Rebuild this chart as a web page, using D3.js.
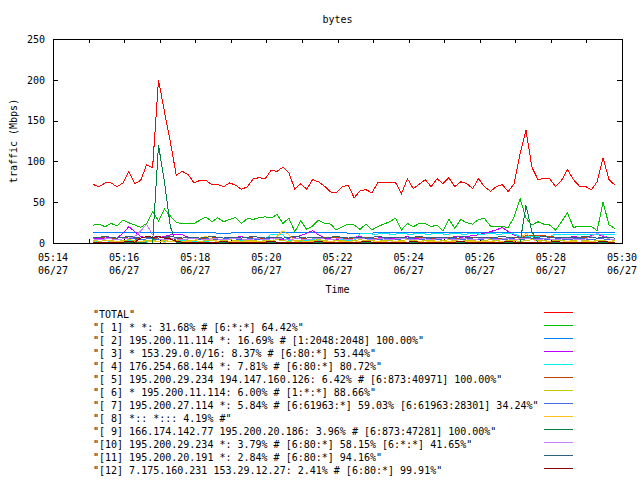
<!DOCTYPE html>
<html>
<head>
<meta charset="utf-8">
<script src="https://cdn.jsdelivr.net/npm/d3@7"></script>
<style>
  html, body { margin: 0; padding: 0; background: #fff; }
  svg { display: block; }
  text { font-family: "DejaVu Sans Mono", monospace; font-size: 10px; fill: #000; white-space: pre; }
</style>
</head>
<body>
<svg id="chart" width="640" height="480"></svg>
<script>
// ---------- DATA ----------
const title = "bytes";
const yLabel = "traffic (Mbps)";
const xLabel = "Time";
const startTime = new Date(2008, 5, 27, 5, 15, 8);   // first sample
const stepSeconds = 10;                               // sample interval
const xDomain = [new Date(2008, 5, 27, 5, 14, 0), new Date(2008, 5, 27, 5, 30, 0)];
const yTicks = [0, 50, 100, 150, 200, 250];

const seriesNames = [
  "\"TOTAL\"",
  "\"[ 1] * *: 31.68% # [6:*:*] 64.42%\"",
  "\"[ 2] 195.200.11.114 *: 16.69% # [1:2048:2048] 100.00%\"",
  "\"[ 3] * 153.29.0.0/16: 8.37% # [6:80:*] 53.44%\"",
  "\"[ 4] 176.254.68.144 *: 7.81% # [6:80:*] 80.72%\"",
  "\"[ 5] 195.200.29.234 194.147.160.126: 6.42% # [6:873:40971] 100.00%\"",
  "\"[ 6] * 195.200.11.114: 6.00% # [1:*:*] 88.66%\"",
  "\"[ 7] 195.200.27.114 *: 5.84% # [6:61963:*] 59.03% [6:61963:28301] 34.24%\"",
  "\"[ 8] *:: *::: 4.19% #\"",
  "\"[ 9] 166.174.142.77 195.200.20.186: 3.96% # [6:873:47281] 100.00%\"",
  "\"[10] 195.200.29.234 *: 3.79% # [6:80:*] 58.15% [6:*:*] 41.65%\"",
  "\"[11] 195.200.20.191 *: 2.84% # [6:80:*] 94.16%\"",
  "\"[12] 7.175.160.231 153.29.12.27: 2.41% # [6:80:*] 99.91%\""
];

const seriesColors = ["#ff0000", "#00c000", "#0080ff", "#c000ff", "#00eeee", "#c04000",
  "#c8c800", "#4169e1", "#ffc020", "#008040", "#c080ff", "#306080", "#8b0000"];

const total = [71.6,69,73.6,73.6,69,73.6,87.8,72.8,76.8,96,92,200,161,124,83,87.8,84,73.6,76.8,76.8,
  71.6,71.6,69,73.6,71,65.8,69,78.8,80,78.8,89,87.8,93,86,65.8,72.8,65.8,77.7,75,69.7,
  62.6,61.4,68.9,71,55.3,63.8,65.4,61.4,74,74,74.4,74,60.5,78.8,66.6,72,77.7,69,78.8,72.8,
  80,69,75,72.8,66.6,78.8,69,63.4,69,71.6,63,72.8,109,138,93,78,78.8,78.8,69,76.8,
  90,77.7,69.7,69.7,65,75,104.5,77.7,71];

const s1 = [22,23.2,19.9,24,21.1,28,24.8,22,19.1,24,38.2,27.2,41.5,33,25,24,24,24,28,32,
  26,31,26,29,31,24,30,29,31,32,30.5,35,24,30.5,13.8,27.2,16.7,20.7,28,24,
  23.2,15.9,19.9,23.2,22,16.7,23.2,16,20,23.2,26,30.5,16,24,20,24,24,20,22,15,
  28.9,17.9,28.9,24.8,23.2,28.9,30,20.7,20.7,20,19,32,54.5,30.5,22,26,23.2,22,15.9,26,
  37,19,20.7,20.7,20.7,15,50.4,22,17.9];

const s2 = [13,13,13,13,13,13,13,13,13,13,13,13,13,13,13,13,13,13,13,13,
  13,12,12,12,13,13,13,13,13,13,13,13,13,13,13,13,13,13,13,13,
  13,13,13,12,12,12,12,12,13,13,13,13,13,13,13,13,13,13,13,13,
  13,13,13,13,13,13,13,13,13,13,13,13,13,13,13,13,13,13,13,13,
  13,13,13,13,13,13,13,13,13];

const s3 = [6,5,6,7,6,12,20,14,8,6,5,6,8,10,11,10,7,5,4,5,
  6,5,4,6,7,8,6,5,4,5,6,5,4,6,7,9,12,15,10,6,
  5,4,6,5,7,8,6,5,6,7,6,5,6,8,6,5,6,7,6,5,
  6,8,7,8,9,10,12,14,16,19,14,10,7,6,5,6,5,7,6,5,
  6,8,7,6,9,11,8,7,6];

const s4 = [2,2,3,2,2,2,3,2,2,2,3,2,2,2,2,3,2,2,2,2,
  3,2,2,2,2,3,2,2,2,3,11,11,10,3,3,2,3,4,3,3,
  2,3,4,3,3,11,12,11,11,12,11,11,12,11,11,12,11,11,12,11,
  11,12,11,11,12,11,11,12,11,11,12,11,8,8,8,8,8,8,11,11,
  11,11,11,11,11,11,10,11,11];

const s5 = [6,7,6,5,6,7,6,5,6,7,6,6,7,6,5,6,7,7,6,5,
  6,7,6,6,5,6,7,6,5,6,7,6,6,7,6,5,6,7,7,7,
  7,7,6,5,6,6,7,6,5,6,7,6,6,5,6,7,6,5,6,6,
  7,6,5,6,7,6,6,7,6,5,6,7,7,9,9,9,9,8,7,6,
  7,7,6,7,7,6,6,7,6];

const s6 = [3,2,3,3,2,3,4,3,2,3,3,2,3,4,3,2,3,3,2,3,
  3,2,3,4,3,2,3,3,2,3,3,4,3,2,3,3,2,3,4,3,
  2,3,3,2,3,4,3,3,2,3,3,2,3,4,3,2,3,3,2,3,
  4,3,2,3,3,2,3,4,3,2,3,3,2,3,4,3,3,2,3,3,
  2,3,4,3,2,3,3,2,3];

const s7 = [5,4,5,5,4,5,6,5,4,5,5,4,5,6,5,4,5,5,4,5,
  5,4,5,6,5,4,5,5,4,5,5,6,5,4,5,5,4,5,6,5,
  4,5,5,4,5,6,5,5,4,5,5,4,5,6,5,4,5,5,4,5,
  6,5,4,5,5,4,5,6,5,4,5,5,4,5,6,5,5,4,5,5,
  4,5,6,5,4,5,5,4,5];

const s8 = [2,4,4,2,1,2,1,2,2,1,2,2,1,2,2,1,2,3,6,8,
  4,2,1,2,2,1,2,2,1,2,2,8,15,10,2,1,2,2,1,2,
  2,1,2,2,1,2,2,1,2,2,1,2,2,1,2,2,1,2,2,1,
  2,2,1,2,2,1,2,2,1,2,2,2,6,12,5,2,1,2,2,1,
  2,2,1,2,2,1,2,2,1];

const s9 = [1,0,1,0,1,0,1,0,1,0,0,120,75,20,0,1,0,1,0,1,
  0,1,0,1,0,1,0,1,0,1,0,1,0,1,0,1,0,1,0,1,
  0,1,0,1,0,1,0,1,0,1,0,1,0,1,0,1,0,1,0,1,
  0,1,0,1,0,1,0,1,0,1,0,1,0,46,14,1,0,1,0,1,
  0,1,0,1,0,1,0,1,0];

const s10 = [5,4,5,5,4,5,6,8,15,23,10,5,4,5,5,4,5,6,5,4,
  5,5,4,5,6,5,4,5,5,4,5,6,5,4,5,5,4,5,6,5,
  4,5,5,4,5,6,5,4,5,5,4,5,6,5,4,5,5,4,5,6,
  5,4,5,5,4,5,6,5,4,5,5,4,5,6,5,4,5,5,4,5,
  6,5,4,5,8,12,9,5,4];

const s11 = [7,7,8,7,6,7,8,7,6,7,7,6,7,8,7,6,7,7,6,7,
  8,7,6,7,7,6,7,8,7,6,7,7,6,7,8,7,6,7,7,6,
  7,8,7,6,7,7,6,7,8,7,6,7,7,6,7,8,7,6,7,7,
  6,7,8,7,6,7,7,6,7,8,7,6,7,7,6,7,8,7,6,7,
  7,6,7,8,7,6,7,7,6];

const s12 = [1,0,1,1,0,1,2,1,6,8,7,8,6,5,2,1,1,0,1,1,
  0,1,2,1,1,0,1,1,0,1,2,1,1,0,1,1,0,1,2,1,
  1,0,1,1,0,1,2,1,1,0,1,1,0,1,2,1,1,0,1,1,
  0,1,2,1,1,0,1,1,0,1,2,1,1,0,1,1,0,1,2,1,
  1,0,1,1,0,1,2,1,1];

const seriesValues = [total, s1, s2, s3, s4, s5, s6, s7, s8, s9, s10, s11, s12];

// ---------- LAYOUT ----------
const svg = d3.select("#chart");
const plot = { left: 53, right: 622, top: 39, bottom: 243 };

const x = d3.scaleTime().domain(xDomain).range([plot.left, plot.right]);
const y = d3.scaleLinear().domain([0, 250]).range([plot.bottom, plot.top]);

const timeAt = i => new Date(startTime.getTime() + i * stepSeconds * 1000);

// Title
svg.append("text").attr("x", (plot.left + plot.right) / 2).attr("y", 23)
  .attr("text-anchor", "middle").text(title);

// Y label
svg.append("text")
  .attr("transform", `translate(13,${(plot.top + plot.bottom) / 2}) rotate(-90)`)
  .attr("text-anchor", "middle").attr("dy", "0.35em").text(yLabel);

// X label
svg.append("text").attr("x", (plot.left + plot.right) / 2).attr("y", 293)
  .attr("text-anchor", "middle").text(xLabel);

// Axes
const gLeft = svg.append("g").attr("transform", `translate(${plot.left},0)`)
  .call(d3.axisLeft(y).tickValues(yTicks).tickSize(-5).tickPadding(8));
const gRight = svg.append("g").attr("transform", `translate(${plot.right},0)`)
  .call(d3.axisRight(y).tickValues(yTicks).tickSize(-5).tickFormat(""));
const minuteTicks = x.ticks(d3.timeMinute.every(1));
const gBottom = svg.append("g").attr("transform", `translate(0,${plot.bottom})`)
  .call(d3.axisBottom(x).tickValues(minuteTicks).tickSize(-4).tickFormat(""));
const gTop = svg.append("g").attr("transform", `translate(0,${plot.top})`)
  .call(d3.axisTop(x).tickValues(minuteTicks).tickSize(-4).tickFormat(""));

[gLeft, gRight, gBottom, gTop].forEach(g => {
  g.select(".domain").remove();
  g.selectAll("line").attr("stroke", "#000").attr("shape-rendering", "crispEdges");
  g.selectAll("text").style("font-family", "DejaVu Sans Mono").style("font-size", "10px").attr("fill", "#000");
});

// Two-line time labels every 2 minutes
const fmtHM = d3.timeFormat("%H:%M");
const fmtMD = d3.timeFormat("%m/%d");
const labelTicks = minuteTicks.filter(d => d.getMinutes() % 2 === 0);
const lbl = svg.append("g").selectAll("text").data(labelTicks).join("text")
  .attr("x", d => x(d)).attr("y", 261).attr("text-anchor", "middle");
lbl.append("tspan").attr("x", d => x(d)).text(d => fmtHM(d));
lbl.append("tspan").attr("x", d => x(d)).attr("dy", 12.5).text(d => fmtMD(d));

// Series lines
const line = d3.line()
  .x((d, i) => x(timeAt(i)))
  .y(d => y(d));

const gLines = svg.append("g");
seriesValues.forEach((vals, si) => {
  gLines.append("path")
    .datum(vals)
    .attr("d", line)
    .attr("fill", "none")
    .attr("stroke", seriesColors[si])
    .attr("stroke-width", 1)
    .attr("shape-rendering", "crispEdges");
});

// Border
svg.append("rect")
  .attr("x", plot.left + 0.5).attr("y", plot.top + 0.5)
  .attr("width", plot.right - plot.left).attr("height", plot.bottom - plot.top)
  .attr("fill", "none").attr("stroke", "#000").attr("shape-rendering", "crispEdges");

// Legend
const legY0 = 312.5, legStep = 13;
const leg = svg.append("g");
seriesNames.forEach((name, i) => {
  const ly = legY0 + i * legStep;
  leg.append("text").attr("x", 93).attr("y", ly + 5).text(name);
  leg.append("line")
    .attr("x1", 544).attr("x2", 573).attr("y1", ly).attr("y2", ly)
    .attr("stroke", seriesColors[i]).attr("stroke-width", 1)
    .attr("shape-rendering", "crispEdges");
});
</script>
</body>
</html>
